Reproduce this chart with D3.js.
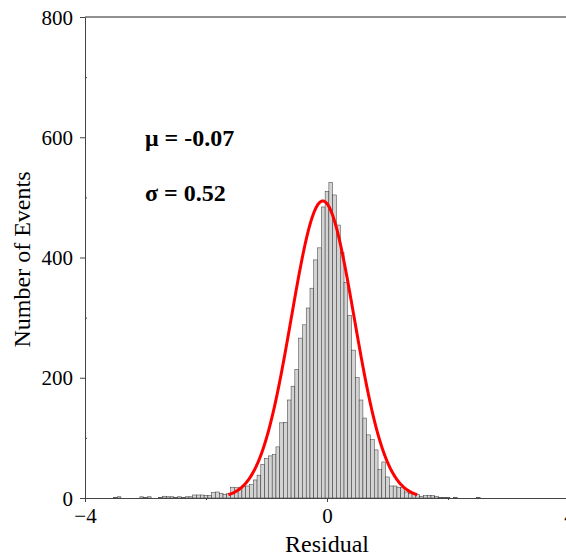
<!DOCTYPE html>
<html lang="en">
<head>
  <meta charset="UTF-8">
  <script src="https://d3js.org/d3.v7.min.js"></script>
  <title></title>
  <style>
    body { margin: 0; background: #fff; }
    text { font-family: 'Liberation Serif', 'Times New Roman', serif; }
  </style>
</head>
<body>
  <script>
    // histogram: bins of 1/16, first bin centred at -3.5
    var binWidth = 0.0625;
    var firstCenter = -3.5;
    var counts = [
      1, 2, 0, 0, 0, 0, 0, 2, 1, 2, 0, 0, 1, 3, 2, 2, 1, 2, 1, 2,
      2, 5, 5, 5, 4, 4, 9, 10, 8, 6, 8, 18, 17, 17, 20, 20, 22, 30, 38, 56,
      66, 70, 72, 85, 125, 126, 163, 186, 214, 266, 288, 316, 349, 396, 416, 484,
      510, 525, 504, 454, 408, 358, 304, 246, 200, 163, 133, 105, 97, 80, 47, 60,
      35, 20, 20, 18, 17, 10, 8, 7, 6, 3, 4, 4, 4, 3, 1, 1, 1, 0, 1, 0,
      0, 0, 0, 0, 1
    ];

    // gaussian fit
    var mu = -0.07;
    var sigma = 0.52;
    var peak = 494;

    var yTicks = [0, 200, 400, 600, 800];
    var yMinor = [100, 300, 500, 700];
    var xTicks = [-4, 0, 4];
    var xMinor = [-2, 2];

    var margin = {top: 17, left: 85},
      width = 484,
      height = 481;

    var svg = d3.select('body')
      .append('svg')
      .attr('width', 566)
      .attr('height', 556);

    var g = svg.append('g')
      .attr('transform', 'translate(' + margin.left + ',' + margin.top + ')');

    var x = d3.scaleLinear().domain([-4, 4]).range([0, width]);
    var y = d3.scaleLinear().domain([0, 800]).range([height, 0]);

    var bins = counts.map(function(c, i) {
      var c0 = firstCenter + i * binWidth;
      return {x0: c0 - binWidth / 2, x1: c0 + binWidth / 2, n: c};
    }).filter(function(d) { return d.n > 0; });

    g.append('g')
      .selectAll('rect')
      .data(bins)
      .enter().append('rect')
        .attr('x', function(d) { return x(d.x0); })
        .attr('width', function(d) { return x(d.x1) - x(d.x0); })
        .attr('y', function(d) { return y(d.n); })
        .attr('height', function(d) { return y(0) - y(d.n); })
        .attr('fill', '#d3d3d3')
        .attr('stroke', '#222')
        .attr('stroke-width', 0.45);

    // fitted curve over mu +/- 3 sigma
    var curveX = d3.range(mu - 3 * sigma, mu + 3 * sigma + 0.001, 0.01);
    var line = d3.line()
      .x(function(v) { return x(v); })
      .y(function(v) { return y(peak * Math.exp(-(v - mu) * (v - mu) / (2 * sigma * sigma))); });
    g.append('path')
      .datum(curveX)
      .attr('d', line)
      .attr('fill', 'none')
      .attr('stroke', '#ff0000')
      .attr('stroke-width', 3);

    // axes
    var yAxis = g.append('g')
      .call(d3.axisLeft(y).tickValues(yTicks).tickSize(5).tickSizeOuter(0));
    g.append('g')
      .call(d3.axisLeft(y).tickValues(yMinor).tickSize(-2).tickFormat(''))
      .select('.domain').remove();
    var xAxis = g.append('g')
      .attr('transform', 'translate(0,' + height + ')')
      .call(d3.axisBottom(x).tickValues(xTicks).tickSize(4).tickSizeOuter(0));
    g.append('g')
      .attr('transform', 'translate(0,' + height + ')')
      .call(d3.axisBottom(x).tickValues(xMinor).tickSize(2).tickFormat(''))
      .select('.domain').remove();

    g.selectAll('.domain, .tick line').attr('stroke', '#444');
    yAxis.selectAll('text').attr('font-size', 21).attr('fill', '#000')
      .attr('font-family', 'Liberation Serif').attr('x', -12).attr('dy', '0.34em');
    xAxis.selectAll('text').attr('font-size', 21).attr('fill', '#000')
      .attr('font-family', 'Liberation Serif').attr('y', 10);

    // top frame line
    g.append('line')
      .attr('x1', 0).attr('x2', width)
      .attr('y1', 0).attr('y2', 0)
      .attr('stroke', '#222');

    // titles
    svg.append('text')
      .attr('transform', 'translate(30,' + (margin.top + height / 2 + 2) + ') rotate(-90)')
      .attr('text-anchor', 'middle')
      .attr('font-size', 24)
      .text('Number of Events');
    svg.append('text')
      .attr('x', margin.left + x(0))
      .attr('y', 552)
      .attr('text-anchor', 'middle')
      .attr('font-size', 24)
      .text('Residual');

    // fit parameters
    svg.append('text')
      .attr('x', 145).attr('y', 146)
      .attr('font-size', 24).attr('font-weight', 'bold')
      .text('\u03bc = ' + mu.toFixed(2));
    svg.append('text')
      .attr('x', 145).attr('y', 201)
      .attr('font-size', 24).attr('font-weight', 'bold')
      .text('\u03c3 = ' + sigma.toFixed(2));
  </script>
</body>
</html>
